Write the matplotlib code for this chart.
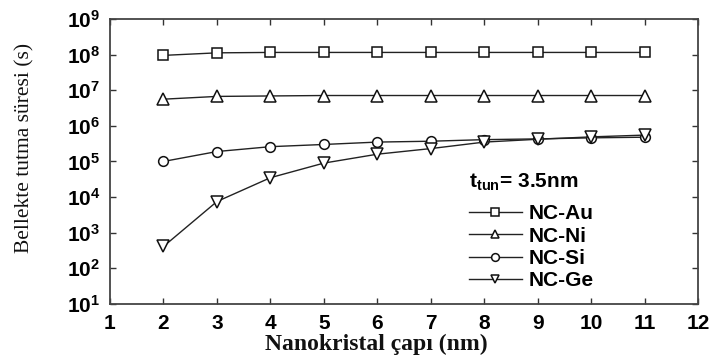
import numpy as np
import matplotlib
matplotlib.use("Agg")
import matplotlib.pyplot as plt
from matplotlib.ticker import NullLocator

plt.rcParams["mathtext.fontset"] = "custom"
plt.rcParams["mathtext.rm"] = "Liberation Sans"
plt.rcParams["mathtext.bf"] = "Liberation Sans:bold"
plt.rcParams["font.family"] = ["Liberation Sans", "DejaVu Sans"]

# Nanocrystal diameter (nm) and retention time (s) per material
diameter = [2, 3, 4, 5, 6, 7, 8, 9, 10, 11]
nc_au = [9.5e7, 1.12e8, 1.15e8, 1.15e8, 1.15e8, 1.15e8, 1.15e8, 1.15e8, 1.15e8, 1.15e8]
nc_ni = [5.6e6, 6.7e6, 6.9e6, 7.1e6, 7.1e6, 7.1e6, 7.1e6, 7.1e6, 7.1e6, 7.1e6]
nc_si = [1.0e5, 1.9e5, 2.6e5, 3.0e5, 3.5e5, 3.7e5, 4.1e5, 4.3e5, 4.6e5, 4.8e5]
nc_ge = [4.1e2, 7.5e3, 3.5e4, 9.0e4, 1.6e5, 2.3e5, 3.5e5, 4.2e5, 4.9e5, 5.5e5]

series = [
    ("NC-Au", nc_au, "s", 6.5),
    ("NC-Ni", nc_ni, "^", 8),
    ("NC-Si", nc_si, "o", 7),
    ("NC-Ge", nc_ge, "v", 8),
]

x_ticks = list(range(1, 13))
y_exponents = list(range(1, 10))

fig = plt.figure(figsize=(7.14, 3.58), dpi=100)
ax = fig.add_axes([0.154, 0.151, 0.824, 0.796])

for name, vals, marker, ms in series:
    ax.plot(diameter, vals, color="#222222", linewidth=1.0, marker=marker,
            markersize=ms, markerfacecolor="white", markeredgecolor="#111111",
            markeredgewidth=1.1, label=name)

ax.set_yscale("log")
ax.set_xlim(1, 12)
ax.set_ylim(1e1, 1e9)
ax.set_xticks(x_ticks, labels=[str(v) for v in x_ticks])
ax.set_yticks([10.0 ** e for e in y_exponents],
              labels=[rf"$\mathbf{{10^{{{e}}}}}$" for e in y_exponents])
ax.yaxis.set_minor_locator(NullLocator())

ax.tick_params(direction="in", length=4, width=1.0, top=True, right=True,
               color="#333333")
ax.tick_params(axis="x", pad=7, labelsize=15)
ax.tick_params(axis="y", pad=7, labelsize=15)
for lbl in ax.get_xticklabels():
    lbl.set_fontweight("bold")
for sp in ax.spines.values():
    sp.set_linewidth(1.3)
    sp.set_color("#444444")

ax.set_xlabel("Nanokristal çapı (nm)", fontfamily="Liberation Serif",
              fontweight="bold", fontsize=17, color="#111111")
ax.xaxis.set_label_coords(0.452, -0.105)
ax.set_ylabel("Bellekte tutma süresi (s)", fontfamily="Liberation Serif",
              fontsize=15.5, color="#111111")
ax.yaxis.set_label_coords(-0.128, 0.549)

# tunnel oxide thickness note above the legend
ax.text(0.611, 0.425, r"$\mathbf{t_{tun}}$= 3.5nm", transform=ax.transAxes,
        ha="left", va="center", fontsize=15, fontweight="bold")

leg = ax.legend(loc="upper left", bbox_to_anchor=(0.611, 0.35),
                frameon=False, handlelength=2.5, handletextpad=0.35,
                labelspacing=0.16, borderpad=0, borderaxespad=0,
                markerscale=0.8,
                prop={"weight": "bold", "size": 15})

fig.savefig("out.png", dpi=100)
